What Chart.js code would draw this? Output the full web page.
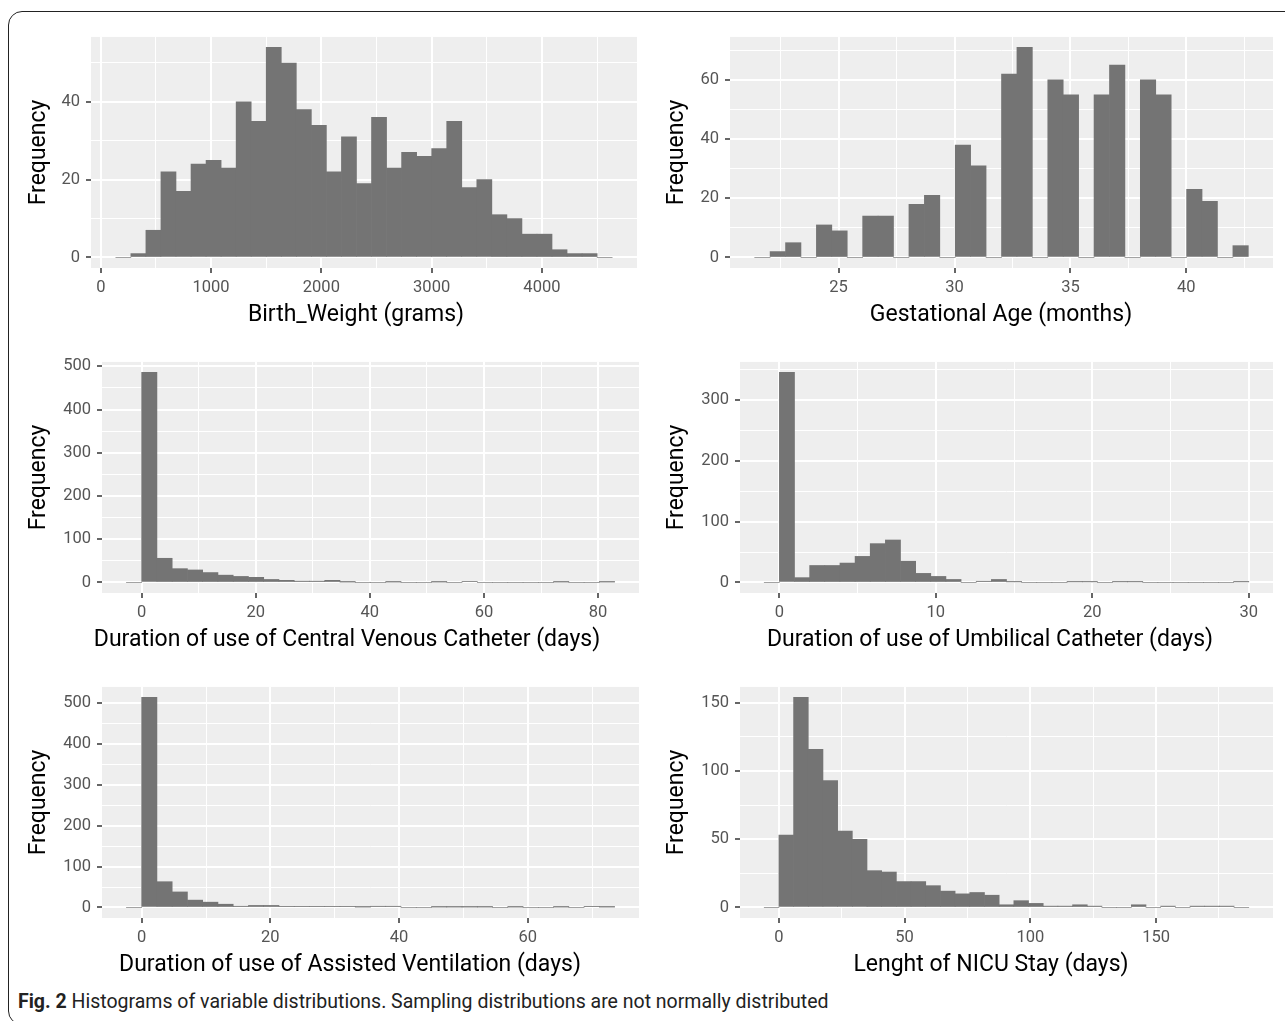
<!DOCTYPE html>
<html><head><meta charset="utf-8">
<script src="https://cdn.jsdelivr.net/npm/chart.js@4.4.1/dist/chart.umd.min.js"></script>
<style>
html,body{margin:0;padding:0;background:#fff;overflow:hidden;width:1285px;height:1021px;}
#frame{position:absolute;left:8px;top:11px;width:1400px;height:1014px;border:1.5px solid #222;border-radius:14px;box-sizing:border-box;}
canvas{position:absolute;}
#caption{position:absolute;left:18px;top:990px;font-family:Roboto,sans-serif;font-size:19.5px;color:#222;white-space:nowrap;}
#caption b{font-weight:bold;}
</style></head>
<body>
<div id="frame"></div>
<canvas id="c1"></canvas><canvas id="c2"></canvas><canvas id="c3"></canvas>
<canvas id="c4"></canvas><canvas id="c5"></canvas><canvas id="c6"></canvas>
<div id="caption"><b>Fig. 2</b> Histograms of variable distributions. Sampling distributions are not normally distributed</div>
<script>
// ---------- DATA ----------
const bwBins = [204.2,340.6,477.0,613.4,749.8,886.2,1022.6,1159.0,1295.4,1431.8,1568.2,1704.6,1841.0,1977.4,2113.8,2250.2,2386.6,2523.0,2659.4,2795.8,2932.2,3068.6,3205.0,3341.4,3477.8,3614.2,3750.6,3887.0,4023.4,4159.8,4296.2,4432.6,4569.0];
const bwCounts = [0,1,7,22,17,24,25,23,40,35,54,50,38,34,22,31,19,36,23,27,26,28,35,18,20,11,10,6,6,2,1,1,0];
const bwBinWidth = 136.4;

const gaBins = [21.713,22.378,23.044,23.709,24.375,25.040,25.705,26.371,27.036,27.702,28.367,29.033,29.698,30.363,31.029,31.694,32.360,33.025,33.690,34.356,35.021,35.687,36.352,37.018,37.683,38.348,39.014,39.679,40.345,41.010,41.676,42.341];
const gaCounts = [0,2,5,0,11,9,0,14,14,0,18,21,0,38,31,0,62,71,0,60,55,0,55,65,0,60,55,0,23,19,0,4];
const gaBinWidth = 0.6654;

const cvcBins = [-1.337,1.337,4.011,6.685,9.359,12.033,14.707,17.381,20.055,22.729,25.403,28.077,30.751,33.425,36.099,38.773,41.447,44.121,46.795,49.469,52.143,54.817,57.491,60.165,62.839,65.513,68.187,70.861,73.535,76.209,78.883,81.557];
const cvcCounts = [0,486,56,32,29,23,17,14,12,7,5,3,3,5,1,0,0,1,0,0,1,0,2,0,0,0,0,0,1,0,0,1];
const cvcBinWidth = 2.674;

const ucBins = [-0.484,0.484,1.452,2.419,3.387,4.355,5.322,6.290,7.258,8.226,9.193,10.161,11.129,12.096,13.064,14.032,15.000,15.967,16.935,17.903,18.870,19.838,20.806,21.774,22.741,23.709,24.677,25.644,26.612,27.580,28.547,29.515];
const ucCounts = [0,346,8,28,28,32,43,64,70,35,15,10,5,0,2,5,1,0,0,0,1,1,0,1,1,0,0,0,0,0,0,1];
const ucBinWidth = 0.9677;

const avBins = [-1.1855,1.1855,3.5565,5.9275,8.2985,10.6695,13.0405,15.4115,17.7825,20.1535,22.5245,24.8955,27.2665,29.6375,32.0085,34.3795,36.7505,39.1215,41.4925,43.8635,46.2345,48.6055,50.9765,53.3475,55.7185,58.0895,60.4605,62.8315,65.2025,67.5735,69.9445,72.3155];
const avCounts = [0,513,63,38,18,13,8,3,5,5,2,2,2,2,2,1,3,3,0,0,1,1,1,1,0,1,0,0,1,0,2,1];
const avBinWidth = 2.371;

const nicuBins = [-2.92,2.92,8.76,14.6,20.44,26.28,32.12,37.96,43.8,49.64,55.48,61.32,67.16,73.0,78.84,84.68,90.52,96.36,102.2,108.04,113.88,119.72,125.56,131.4,137.24,143.08,148.92,154.76,160.6,166.44,172.28,178.12,183.96];
const nicuCounts = [0,53,154,116,93,56,50,27,26,19,19,16,12,10,11,9,2,5,3,1,1,2,1,0,0,2,0,1,0,1,1,1,0];
const nicuBinWidth = 5.84;

// tick labels (major) and minor grid positions
const bwXTicks = [0,1000,2000,3000,4000];      const bwXMinor = [500,1500,2500,3500,4500];
const bwYTicks = [0,20,40];                     const bwYMinor = [10,30,50];
const gaXTicks = [25,30,35,40];                 const gaXMinor = [22.5,27.5,32.5,37.5,42.5];
const gaYTicks = [0,20,40,60];                  const gaYMinor = [10,30,50,70];
const cvcXTicks = [0,20,40,60,80];              const cvcXMinor = [10,30,50,70];
const cvcYTicks = [0,100,200,300,400,500];      const cvcYMinor = [50,150,250,350,450];
const ucXTicks = [0,10,20,30];                  const ucXMinor = [5,15,25];
const ucYTicks = [0,100,200,300];               const ucYMinor = [50,150,250,350];
const avXTicks = [0,20,40,60];                  const avXMinor = [10,30,50,70];
const avYTicks = [0,100,200,300,400,500];       const avYMinor = [50,150,250,350,450];
const nicuXTicks = [0,50,100,150];              const nicuXMinor = [25,75,125,175];
const nicuYTicks = [0,50,100,150];              const nicuYMinor = [25,75,125];

const xTitles = ['Birth_Weight (grams)','Gestational Age (months)','Duration of use of Central Venous Catheter (days)','Duration of use of Umbilical Catheter (days)','Duration of use of Assisted Ventilation (days)','Lenght of NICU Stay (days)'];
const yTitle = 'Frequency';

// ---------- LAYOUT ----------
const FONT = "Roboto, sans-serif";
const panels = [
  {id:'c1', bins:bwBins, counts:bwCounts, w:bwBinWidth, xt:bwXTicks, xm:bwXMinor, yt:bwYTicks, ym:bwYMinor, L:91, R:637, T:27, B:268, cl:16, tx:356},
  {id:'c2', bins:gaBins, counts:gaCounts, w:gaBinWidth, xt:gaXTicks, xm:gaXMinor, yt:gaYTicks, ym:gaYMinor, L:730, R:1273, T:27, B:268, cl:655, tx:1001},
  {id:'c3', bins:cvcBins, counts:cvcCounts, w:cvcBinWidth, xt:cvcXTicks, xm:cvcXMinor, yt:cvcYTicks, ym:cvcYMinor, L:102, R:639, T:352, B:593, cl:16, tx:347},
  {id:'c4', bins:ucBins, counts:ucCounts, w:ucBinWidth, xt:ucXTicks, xm:ucXMinor, yt:ucYTicks, ym:ucYMinor, L:740, R:1273, T:352, B:593, cl:655, tx:990},
  {id:'c5', bins:avBins, counts:avCounts, w:avBinWidth, xt:avXTicks, xm:avXMinor, yt:avYTicks, ym:avYMinor, L:102, R:639, T:677, B:918, cl:16, tx:350},
  {id:'c6', bins:nicuBins, counts:nicuCounts, w:nicuBinWidth, xt:nicuXTicks, xm:nicuXMinor, yt:nicuYTicks, ym:nicuYMinor, L:740, R:1273, T:677, B:918, cl:655, tx:991}
];
const PAD = 6, XAXIS_H = 62, TICK_LEN = 5, TITLE_SIZE = 23, TICK_SIZE = 16.5;
const titleCenterX = {16:39, 655:677};

const panelBg = {
  id:'panelBg',
  beforeDraw(chart){
    const a = chart.chartArea, ctx = chart.ctx;
    ctx.save(); ctx.fillStyle = '#EEEEEE';
    ctx.fillRect(a.left, a.top, a.right-a.left, a.bottom-a.top);
    ctx.restore();
  }
};
// x-axis title drawn under the panel at the reference position
const xTitle = {
  id:'xTitle',
  afterDraw(chart, args, opts){
    const ctx = chart.ctx;
    ctx.save();
    ctx.font = TITLE_SIZE + 'px ' + FONT;
    ctx.fillStyle = '#000';
    ctx.textAlign = 'center';
    ctx.textBaseline = 'alphabetic';
    ctx.fillText(opts.text, opts.x, opts.y);
    ctx.restore();
  }
};

panels.forEach((p, i) => {
  const cv = document.getElementById(p.id);
  const yAxisW = p.L - p.cl;
  const top = p.T - PAD;
  cv.style.left = p.cl + 'px';
  cv.style.top = top + 'px';
  cv.width = p.R + PAD - p.cl;
  cv.height = (p.B - p.T) + PAD + XAXIS_H;

  const lo = p.bins[0] - p.w/2, hi = p.bins[p.bins.length-1] + p.w/2;
  const xpad = 0.05*(hi-lo);
  const ymax = Math.max(...p.counts);
  const halfLH = TITLE_SIZE*1.2/2;

  const mkScale = (major, minor) => ({
    afterBuildTicks: ax => { ax.ticks = major.concat(minor).sort((a,b)=>a-b).map(v => ({value:v})); },
    ticks: {
      autoSkip:false, maxRotation:0, minRotation:0,
      color:'#555', font:{family:FONT, size:TICK_SIZE},
      callback: v => major.includes(v) ? String(v) : ''
    },
    grid: {
      offset:false,
      color:'#FFFFFF',
      lineWidth: ctx => (ctx.tick && major.includes(ctx.tick.value)) ? 2 : 1,
      drawTicks:true, tickLength:TICK_LEN, tickWidth:1.5,
      tickColor: ctx => (ctx.tick && major.includes(ctx.tick.value)) ? '#333333' : 'rgba(0,0,0,0)'
    },
    border:{display:false}
  });

  const xs = mkScale(p.xt, p.xm);
  Object.assign(xs, {
    type:'linear', offset:false, min: lo - xpad, max: hi + xpad,
    afterFit: ax => { ax.height = XAXIS_H; },
    title: {display:false}
  });
  xs.ticks.padding = 5;

  const ys = mkScale(p.yt, p.ym);
  Object.assign(ys, {
    type:'linear', min: -0.05*ymax, max: ymax*1.05,
    afterFit: ax => { ax.width = yAxisW; },
    title: {display:true, text:yTitle, color:'#000', font:{family:FONT, size:TITLE_SIZE}, padding:{top: titleCenterX[p.cl] - p.cl - halfLH, bottom:0}}
  });
  ys.ticks.padding = 6;

  new Chart(cv, {
    type:'bar',
    data:{ datasets:[{
      data: p.bins.map((b, k) => ({x:b, y:p.counts[k]})),
      backgroundColor:'#747474', borderWidth:0,
      barPercentage:1, categoryPercentage:1
    }]},
    options:{
      responsive:false, animation:false, devicePixelRatio:1,
      layout:{padding:{top:PAD, right:PAD, bottom:0, left:0}},
      plugins:{legend:{display:false}, tooltip:{enabled:false},
        xTitle:{text:xTitles[i], x:p.tx - p.cl, y:p.B + 53 - top}},
      scales:{x:xs, y:ys}
    },
    plugins:[panelBg, xTitle]
  });
});
</script>
</body></html>
